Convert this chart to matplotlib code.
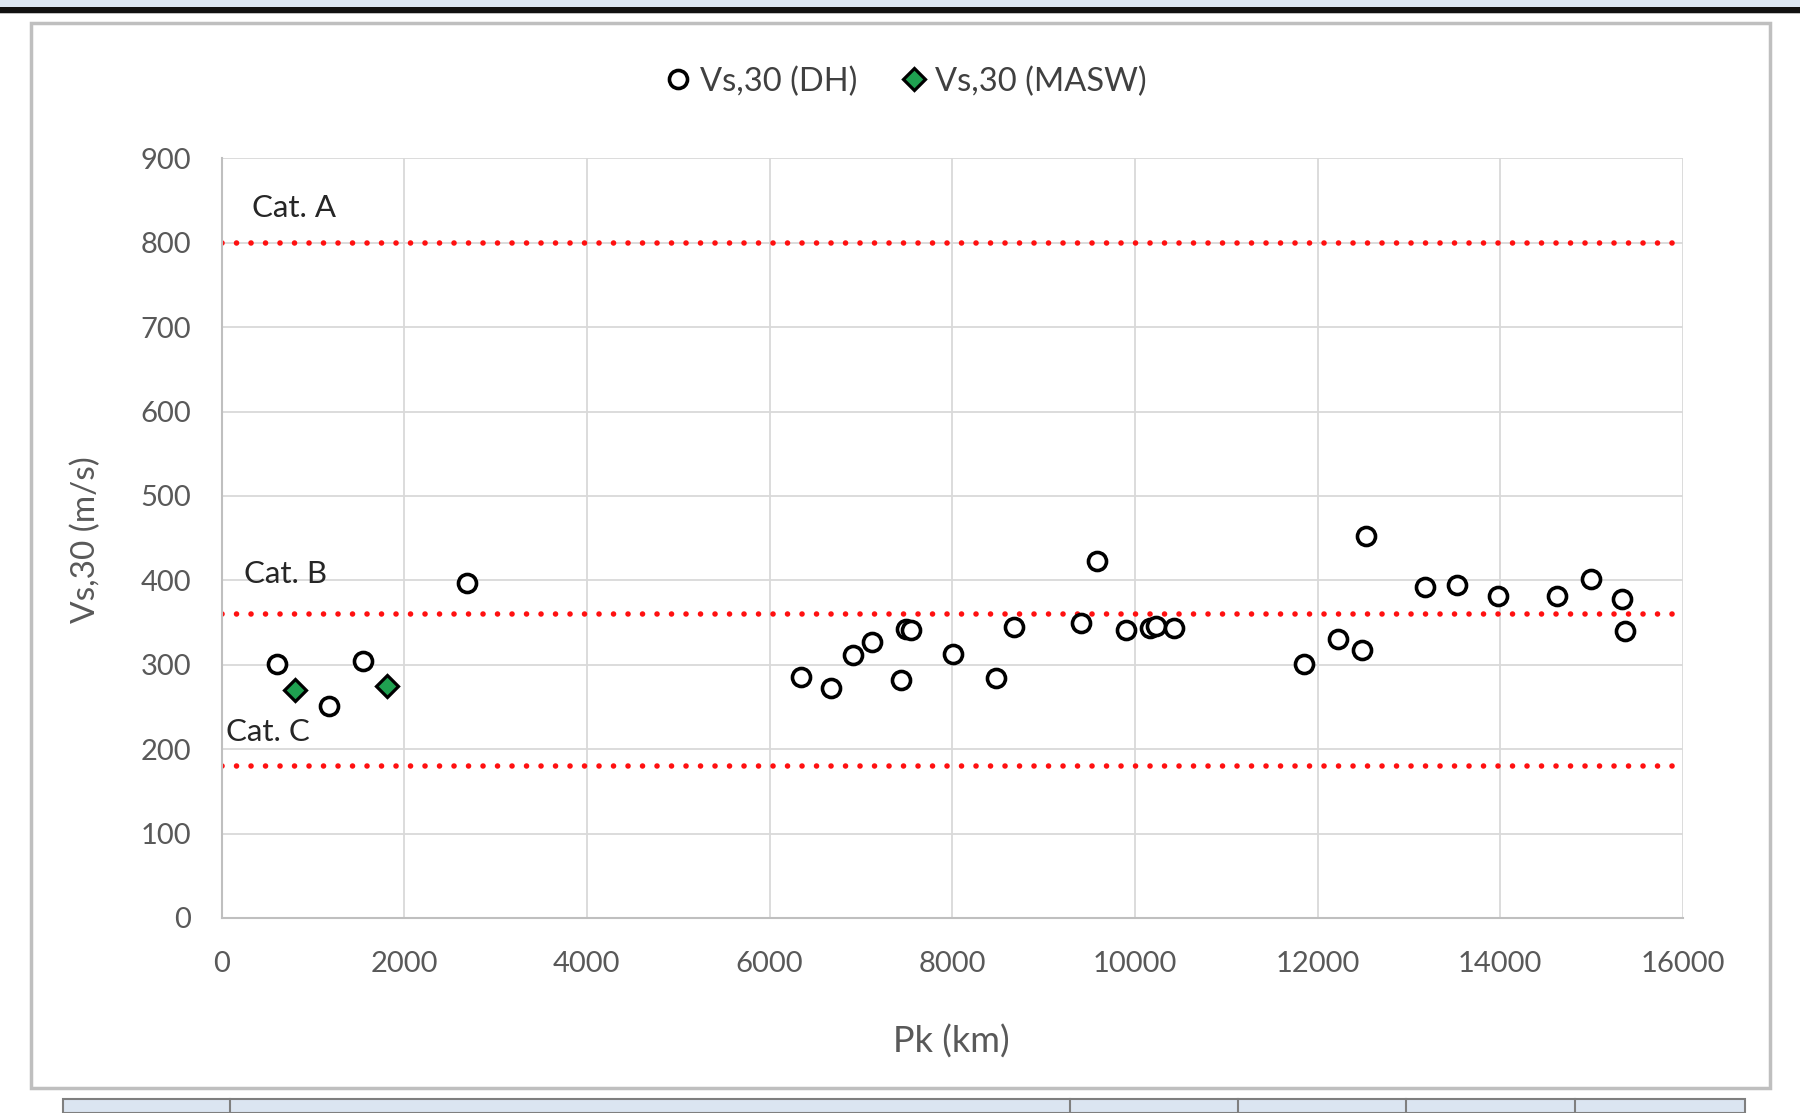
import matplotlib
matplotlib.use("Agg")
import matplotlib.pyplot as plt
from matplotlib.patches import Rectangle
from matplotlib.lines import Line2D

plt.rcParams['font.family'] = ['Lato', 'DejaVu Sans']

# ---- data ----
dh_pk = [611, 1171, 1545, 2691, 6342, 6677, 6919, 7117, 7434, 7490, 7550, 8006, 8479, 8677,
         9410, 9583, 9902, 10162, 10235, 10431, 11853, 12221, 12485, 12525, 13171, 13529,
         13975, 14622, 14999, 15333, 15368]
dh_vs = [301, 251, 304, 397, 286, 273, 311, 327, 282, 342, 341, 313, 284, 345,
         350, 423, 341, 343, 346, 343, 301, 330, 318, 452, 392, 395,
         382, 382, 401, 378, 340]
masw_pk = [807, 1811]
masw_vs = [270, 275]
cat_limits = [800, 360, 180]
cat_labels = ["Cat. A", "Cat. B", "Cat. C"]
cat_label_pos = [(330, 841), (250, 407), (50, 220)]
x_ticks = [0, 2000, 4000, 6000, 8000, 10000, 12000, 14000, 16000]
y_ticks = [0, 100, 200, 300, 400, 500, 600, 700, 800, 900]

W, H = 1568.0, 970.0
fig = plt.figure(figsize=(18, 11.13), dpi=100)
fig.patch.set_facecolor('white')

# top band and black rule
fig.patches.append(Rectangle((0, 0.993), 1, 0.007, transform=fig.transFigure,
                             facecolor='#dce6f2', edgecolor='none', zorder=-5))
fig.patches.append(Rectangle((0, 0.9885), 1, 0.0048, transform=fig.transFigure,
                             facecolor='#111111', edgecolor='none', zorder=-5))
fig.patches.append(Rectangle((0, 0.9870), 1, 0.0015, transform=fig.transFigure,
                             facecolor='#c0c0c0', edgecolor='none', zorder=-5))
# chart frame
fig.patches.append(Rectangle((27 / W, 1 - 948 / H), (1542 - 27) / W, (948 - 20) / H,
                             transform=fig.transFigure, facecolor='white',
                             edgecolor='#bfbfbf', linewidth=2.5, zorder=-5))
# bottom table strip
ty0 = 0
ty1 = 1 - 958 / H
fig.patches.append(Rectangle((55 / W, ty0), (1520 - 55) / W, ty1 - ty0,
                             transform=fig.transFigure, facecolor='#dbe5f1',
                             edgecolor='#7f7f7f', linewidth=1.5, zorder=-5))
for xd in [200, 932, 1078, 1225, 1372]:
    fig.lines.append(Line2D([xd / W, xd / W], [ty0, ty1], transform=fig.transFigure,
                            color='#7f7f7f', linewidth=1.5, zorder=-4))

ax = fig.add_axes([193 / W, 1 - 800 / H, (1466 - 193) / W, (800 - 138) / H])
ax.set_zorder(3)
ax.patch.set_alpha(0)
ax.set_xlim(0, 16000)
ax.set_ylim(0, 900)
ax.set_xticks(x_ticks)
ax.set_yticks(y_ticks)
ax.grid(True, color='#d9d9d9', linewidth=1.3)
ax.set_axisbelow(True)
for s in ['top', 'right']:
    ax.spines[s].set_visible(False)
for s in ['left', 'bottom']:
    ax.spines[s].set_color('#bfbfbf')
    ax.spines[s].set_linewidth(1.5)
ax.tick_params(length=0, labelsize=21, labelcolor='#595959')
ax.tick_params(axis='x', pad=24)
ax.tick_params(axis='y', pad=22)

for v in cat_limits:
    ax.axhline(v, color='#ff1010', linewidth=4.0, linestyle=(0, (0.01, 2.6)),
               dash_capstyle='round', zorder=2)
for lab, (xp, yp) in zip(cat_labels, cat_label_pos):
    ax.text(xp, yp, lab, fontsize=22.5, color='#262626', va='center', ha='left')

ax.plot(dh_pk, dh_vs, linestyle='none', marker='o', markersize=13,
        markerfacecolor='white', markeredgecolor='black', markeredgewidth=2.6,
        label='Vs,30 (DH)', zorder=4, clip_on=False)
ax.plot(masw_pk, masw_vs, linestyle='none', marker='D', markersize=11,
        markerfacecolor='#1fa050', markeredgecolor='black', markeredgewidth=2.3,
        label='Vs,30 (MASW)', zorder=4, clip_on=False)

leg = fig.legend(loc='center', bbox_to_anchor=(790 / W, 1 - 71 / H), ncol=2,
                 frameon=False, fontsize=23.5, handlelength=0.7, handletextpad=0.3,
                 columnspacing=1.4, markerscale=1.0)
for t in leg.get_texts():
    t.set_color('#404040')

fig.text(75 / W, 1 - 470 / H, 'Vs,30 (m/s)', rotation=90, fontsize=24,
         color='#595959', ha='center', va='center')
fig.text(829 / W, 1 - 908 / H, 'Pk (km)', fontsize=26, color='#595959',
         ha='center', va='center')

fig.savefig('out.png', dpi=100, facecolor='white')
